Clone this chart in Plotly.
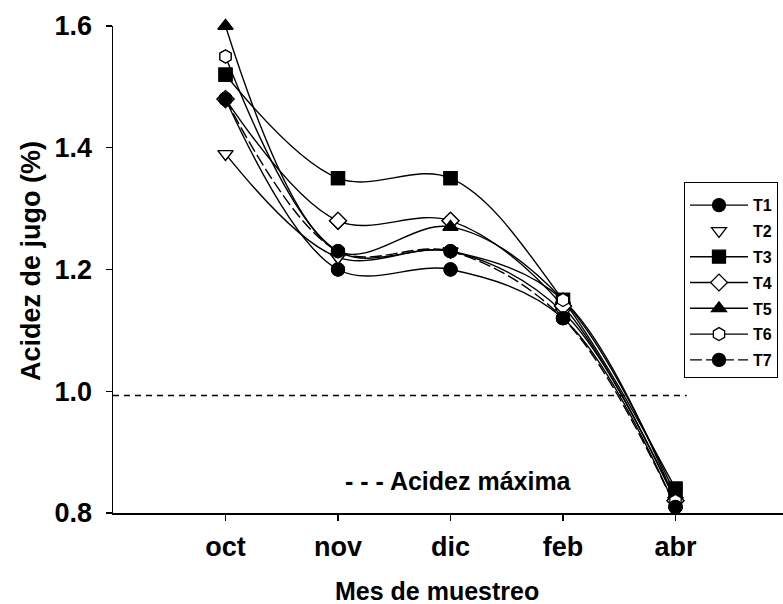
import plotly.graph_objects as go

# Meses de muestreo y acidez de jugo (%) por tratamiento
meses = ["oct", "nov", "dic", "feb", "abr"]
x_pos = [1, 2, 3, 4, 5]

T1 = [1.48, 1.20, 1.20, 1.12, 0.81]
T2 = [1.39, 1.22, 1.23, 1.13, 0.82]
T3 = [1.52, 1.35, 1.35, 1.15, 0.84]
T4 = [1.48, 1.28, 1.28, 1.14, 0.82]
T5 = [1.60, 1.23, 1.27, 1.15, 0.83]
T6 = [1.55, 1.23, 1.23, 1.15, 0.82]
T7 = [1.48, 1.23, 1.23, 1.12, 0.81]

acidez_maxima = 0.993
y_ticks = [0.8, 1.0, 1.2, 1.4, 1.6]

FONT = "Liberation Sans, Arial, sans-serif"
BLACK = "black"

series = [
    ("T1", T1, "circle", BLACK, "solid", True),
    ("T2", T2, "triangle-down", "white", "solid", False),
    ("T3", T3, "square", BLACK, "solid", True),
    ("T4", T4, "diamond", "white", "solid", True),
    ("T5", T5, "triangle-up", BLACK, "solid", True),
    ("T6", T6, "hexagon", "white", "solid", True),
    ("T7", T7, "circle", BLACK, "12px,4px", True),
]

fig = go.Figure()

# curves, with their legend entries
for name, vals, sym, fill, dash, legend_line in series:
    marker = dict(symbol=sym, size=13, color=fill, line=dict(color=BLACK, width=1.3))
    line = dict(color=BLACK, width=1.4, shape="spline", smoothing=1.0, dash=dash)
    if legend_line:
        fig.add_trace(go.Scatter(x=x_pos, y=vals, name=name, mode="lines+markers",
                                 line=line, marker=marker, legendgroup=name,
                                 cliponaxis=False))
    else:
        fig.add_trace(go.Scatter(x=x_pos, y=vals, mode="lines", showlegend=False,
                                 line=line, cliponaxis=False))
        fig.add_trace(go.Scatter(x=x_pos, y=vals, name=name, mode="markers",
                                 marker=marker, legendgroup=name, cliponaxis=False))

# markers on top of every curve
for name, vals, sym, fill, dash, legend_line in series:
    fig.add_trace(go.Scatter(
        x=x_pos, y=vals, mode="markers", showlegend=False, hoverinfo="skip",
        cliponaxis=False,
        marker=dict(symbol=sym, size=13, color=fill, line=dict(color=BLACK, width=1.3)),
    ))

# maximum acidity reference line
fig.add_shape(type="line", xref="x", yref="y", x0=0.0, x1=5.1,
              y0=acidez_maxima, y1=acidez_maxima,
              line=dict(color=BLACK, width=1.3, dash="6px,5px"))

fig.add_annotation(x=3.07, y=0.853, xref="x", yref="y", showarrow=False,
                   text="- - - Acidez máxima",
                   font=dict(family=FONT, size=25, color=BLACK, weight="bold"))

L, R, T, B = 113, 0, 26, 91
W, H = 783, 604
PW, PH = W - L - R, H - T - B

# axis titles
fig.add_annotation(x=(437 - L) / PW, y=-(591 - T - PH) / PH, xref="paper", yref="paper",
                   xanchor="center", yanchor="middle",
                   showarrow=False, text="Mes de muestreo",
                   font=dict(family=FONT, size=25, color=BLACK, weight="bold"))
fig.add_annotation(x=-(L - 31) / PW, y=1 - (261 - T) / PH, xref="paper", yref="paper",
                   xanchor="center", yanchor="middle",
                   showarrow=False, text="Acidez de jugo (%)", textangle=-90,
                   font=dict(family=FONT, size=27, color=BLACK, weight="bold"))

fig.update_layout(
    template="none",
    width=W, height=H,
    margin=dict(l=L, r=R, t=T, b=B),
    paper_bgcolor="white", plot_bgcolor="white",
    font=dict(family=FONT, color=BLACK),
    showlegend=True,
    legend=dict(
        x=(684 - L) / PW, y=1 - (182 - T) / PH,
        xanchor="left", yanchor="top",
        font=dict(family=FONT, size=16, color=BLACK, weight="bold"),
        title=dict(text=" ", font=dict(size=4)),
        bordercolor=BLACK, borderwidth=1, bgcolor="white",
        tracegroupgap=2, itemwidth=58,
    ),
    xaxis=dict(
        range=[0.0, PW / 112.5], tickvals=x_pos, ticktext=meses,
        showline=True, linecolor=BLACK, linewidth=1.5, mirror=False,
        ticks="outside", ticklen=6, tickwidth=1.3, tickcolor=BLACK,
        ticklabelstandoff=3,
        showgrid=False, zeroline=False,
        tickfont=dict(family=FONT, size=27, color=BLACK, weight="bold"),
    ),
    yaxis=dict(
        range=[0.8, 1.6], tickvals=y_ticks, tickformat=".1f",
        showline=True, linecolor=BLACK, linewidth=1.5, mirror=False,
        ticks="outside", ticklen=6, tickwidth=1.3, tickcolor=BLACK,
        ticklabelstandoff=8,
        showgrid=False, zeroline=False,
        tickfont=dict(family=FONT, size=27, color=BLACK, weight="bold"),
    ),
)

fig.write_html(
    "out.html",
    config={"displayModeBar": False, "staticPlot": True},
    post_script=(
        "document.documentElement.style.overflow='hidden';"
        "document.body.style.margin='0';document.body.style.overflow='hidden';"
    ),
)
